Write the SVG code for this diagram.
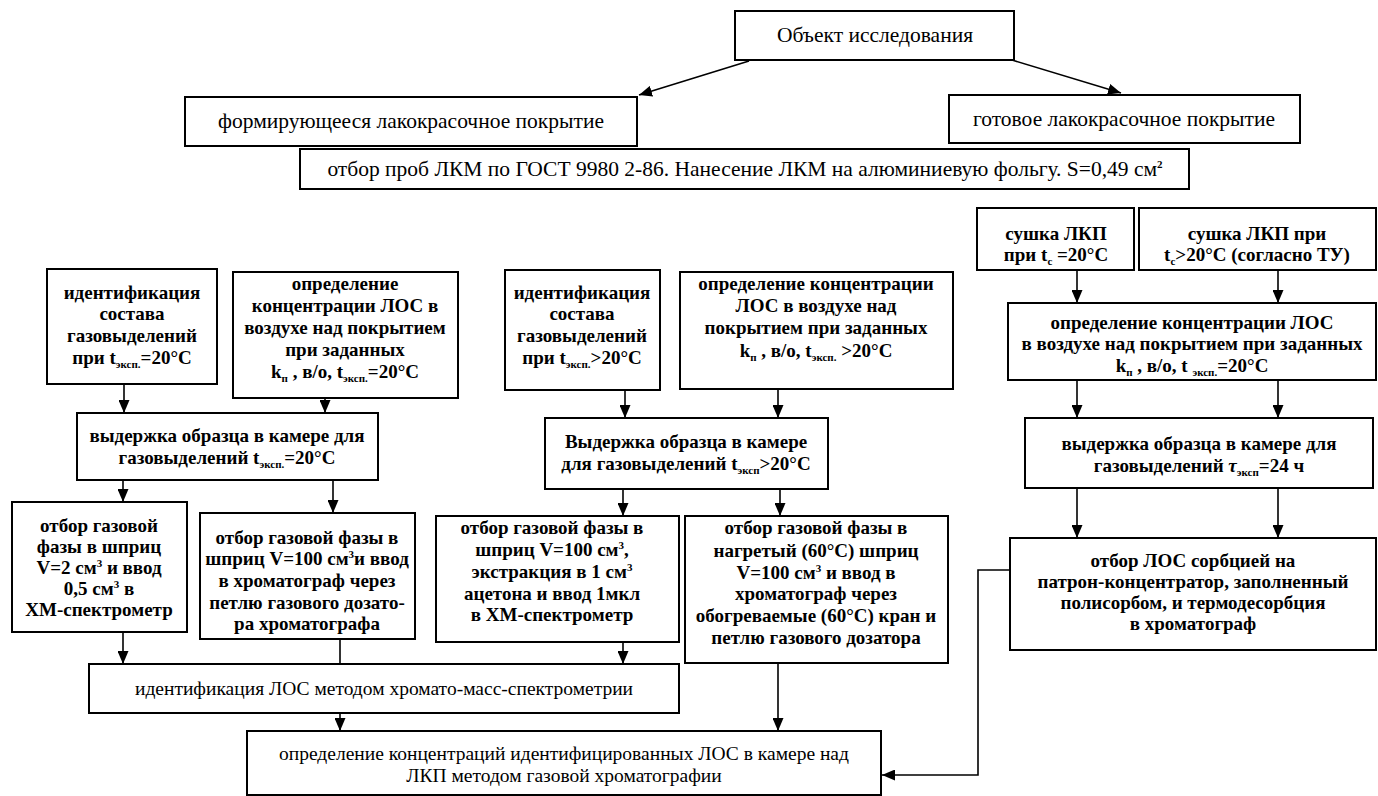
<svg xmlns="http://www.w3.org/2000/svg" width="1378" height="796" viewBox="0 0 1378 796">
<style>
.box{fill:#fff;stroke:#000;stroke-width:2}
.t{font-family:"Liberation Serif","Times New Roman",serif;font-size:20px;fill:#000;text-anchor:middle}
.top{font-size:21.5px}
.mid{font-size:19.5px}
.b{font-weight:bold;font-size:19px}
.s{font-size:11px}
.ln{fill:none;stroke:#000;stroke-width:1.6}
.ar{marker-end:url(#ah)}
</style>
<defs>
<marker id="ah" viewBox="0 0 13 11" refX="13" refY="5.5" markerWidth="13" markerHeight="11" markerUnits="userSpaceOnUse" orient="auto">
<path d="M0,0 L13,5.5 L0,11 z" fill="#000"/>
</marker>
</defs>
<rect width="1378" height="796" fill="#fff"/>

<g id="connectors">
<path class="ln ar" d="M749,61 L639,95"/>
<path class="ln ar" d="M1012,60 L1121,93"/>
<path class="ln ar" d="M124,384 V413"/>
<path class="ln ar" d="M325,398 V413"/>
<path class="ln ar" d="M123,480 V502"/>
<path class="ln ar" d="M333,480 V513"/>
<path class="ln ar" d="M123,632 V664"/>
<path class="ln" d="M340,639 V664"/>
<path class="ln ar" d="M340,713 V731"/>
<path class="ln ar" d="M625,390 V418"/>
<path class="ln ar" d="M778,389 V418"/>
<path class="ln ar" d="M623,489 V516"/>
<path class="ln ar" d="M780,489 V516"/>
<path class="ln ar" d="M623,642 V664"/>
<path class="ln ar" d="M778,663 V731"/>
<path class="ln ar" d="M1077,270 V303"/>
<path class="ln ar" d="M1278,270 V303"/>
<path class="ln ar" d="M1077,380 V418"/>
<path class="ln ar" d="M1278,380 V418"/>
<path class="ln ar" d="M1077,488 V538"/>
<path class="ln ar" d="M1278,488 V538"/>
<path class="ln ar" d="M1010,570 H978 V775 H882"/>
</g>

<g id="n-object">
<rect class="box" x="735" y="11" width="279" height="49"/>
<text class="t top" x="875" y="42">Объект исследования</text>
</g>
<g id="n-forming">
<rect class="box" x="185" y="97" width="452" height="49"/>
<text class="t top" x="411" y="128">формирующееся лакокрасочное покрытие</text>
</g>
<g id="n-ready">
<rect class="box" x="949" y="95" width="351" height="48"/>
<text class="t top" x="1124" y="126">готовое лакокрасочное покрытие</text>
</g>
<g id="n-sampling">
<rect class="box" x="300" y="149" width="889" height="40"/>
<text class="t top" x="745" y="176">отбор проб ЛКМ по ГОСТ 9980 2-86. Нанесение ЛКМ на алюминиевую фольгу. S=0,49 см<tspan class="s" dy="-8" font-weight="bold">2</tspan></text>
</g>

<g id="n-ident20">
<rect class="box" x="47" y="269" width="170" height="115"/>
<text class="t b"><tspan x="132" y="299">идентификация</tspan><tspan x="132" y="320">состава</tspan><tspan x="132" y="342">газовыделений</tspan><tspan x="132" y="364">при t<tspan class="s" dy="4">эксп.</tspan><tspan dy="-4">=20°C</tspan></tspan></text>
</g>
<g id="n-conc20">
<rect class="box" x="233" y="272" width="225" height="126"/>
<text class="t b"><tspan x="345" y="290">определение</tspan><tspan x="345" y="312">концентрации ЛОС в</tspan><tspan x="345" y="334">воздухе над покрытием</tspan><tspan x="345" y="356">при заданных</tspan><tspan x="345" y="378">k<tspan class="s" dy="4">п</tspan><tspan dy="-4"> , в/о, t</tspan><tspan class="s" dy="4">эксп.</tspan><tspan dy="-4">=20°C</tspan></tspan></text>
</g>
<g id="n-hold20">
<rect class="box" x="77" y="413" width="301" height="67"/>
<text class="t b"><tspan x="227" y="442">выдержка образца в камере для</tspan><tspan x="227" y="464">газовыделений t<tspan class="s" dy="4">эксп.</tspan><tspan dy="-4">=20°C</tspan></tspan></text>
</g>
<g id="n-syringe2">
<rect class="box" x="12" y="502" width="175" height="130"/>
<text class="t b"><tspan x="99" y="532">отбор газовой</tspan><tspan x="99" y="553">фазы в шприц</tspan><tspan x="99" y="574">V=2 см<tspan class="s" dy="-7">3</tspan><tspan dy="7"> и ввод</tspan></tspan><tspan x="99" y="595">0,5 см<tspan class="s" dy="-7">3</tspan><tspan dy="7"> в</tspan></tspan><tspan x="99" y="616">ХМ-спектрометр</tspan></text>
</g>
<g id="n-syringe100">
<rect class="box" x="200" y="513" width="215" height="126"/>
<text class="t b"><tspan x="307" y="544">отбор газовой фазы в</tspan><tspan x="307" y="565">шприц V=100 см<tspan class="s" dy="-7">3</tspan><tspan dy="7">и ввод</tspan></tspan><tspan x="307" y="587">в хроматограф через</tspan><tspan x="307" y="609">петлю газового дозато-</tspan><tspan x="307" y="630">ра хроматографа</tspan></text>
</g>
<g id="n-gcms">
<rect class="box" x="89" y="664" width="590" height="49"/>
<text class="t mid" x="384" y="695">идентификация ЛОС методом хромато-масс-спектрометрии</text>
</g>
<g id="n-gc">
<rect class="box" x="247" y="731" width="634" height="64"/>
<text class="t mid"><tspan x="564" y="760">определение концентраций идентифицированных ЛОС в камере над</tspan><tspan x="564" y="782">ЛКП методом газовой хроматографии</tspan></text>
</g>

<g id="n-identhot">
<rect class="box" x="505" y="270" width="155" height="120"/>
<text class="t b"><tspan x="582" y="299">идентификация</tspan><tspan x="582" y="320">состава</tspan><tspan x="582" y="342">газовыделений</tspan><tspan x="582" y="364">при t<tspan class="s" dy="4">эксп.</tspan><tspan dy="-4">&gt;20°C</tspan></tspan></text>
</g>
<g id="n-conchot">
<rect class="box" x="680" y="272" width="273" height="117"/>
<text class="t b"><tspan x="816" y="290">определение концентрации</tspan><tspan x="816" y="312">ЛОС в воздухе над</tspan><tspan x="816" y="334">покрытием при заданных</tspan><tspan x="816" y="357">k<tspan class="s" dy="4">п</tspan><tspan dy="-4"> , в/о, t</tspan><tspan class="s" dy="4">эксп.</tspan><tspan dy="-4"> &gt;20°C</tspan></tspan></text>
</g>
<g id="n-holdhot">
<rect class="box" x="545" y="418" width="283" height="71"/>
<text class="t b"><tspan x="686" y="448">Выдержка образца в камере</tspan><tspan x="686" y="470">для газовыделений t<tspan class="s" dy="4">эксп</tspan><tspan dy="-4">&gt;20°C</tspan></tspan></text>
</g>
<g id="n-extract">
<rect class="box" x="436" y="516" width="243" height="126"/>
<text class="t b"><tspan x="552" y="534">отбор газовой фазы в</tspan><tspan x="552" y="556">шприц V=100 см<tspan class="s" dy="-7">3</tspan><tspan dy="7">,</tspan></tspan><tspan x="552" y="578">экстракция в 1 см<tspan class="s" dy="-7">3</tspan></tspan><tspan x="552" y="600">ацетона и ввод 1мкл</tspan><tspan x="552" y="621">в ХМ-спектрометр</tspan></text>
</g>
<g id="n-heated">
<rect class="box" x="685" y="516" width="263" height="147"/>
<text class="t b"><tspan x="816" y="534">отбор газовой фазы в</tspan><tspan x="816" y="557">нагретый (60°C) шприц</tspan><tspan x="816" y="579">V=100 см<tspan class="s" dy="-7">3</tspan><tspan dy="7"> и ввод в</tspan></tspan><tspan x="816" y="600">хроматограф через</tspan><tspan x="816" y="622">обогреваемые (60°C) кран и</tspan><tspan x="816" y="644">петлю газового дозатора</tspan></text>
</g>

<g id="n-dry20">
<rect class="box" x="977" y="208" width="157" height="62"/>
<text class="t b"><tspan x="1056" y="240">сушка ЛКП</tspan><tspan x="1056" y="261">при t<tspan class="s" dy="4">с</tspan><tspan dy="-4"> =20°C</tspan></tspan></text>
</g>
<g id="n-dryhot">
<rect class="box" x="1139" y="208" width="237" height="62"/>
<text class="t b"><tspan x="1257" y="240">сушка ЛКП при</tspan><tspan x="1257" y="261">t<tspan class="s" dy="4">с</tspan><tspan dy="-4">&gt;20°C (согласно ТУ)</tspan></tspan></text>
</g>
<g id="n-concready">
<rect class="box" x="1008" y="303" width="368" height="77"/>
<text class="t b"><tspan x="1192" y="329">определение концентрации ЛОС</tspan><tspan x="1192" y="350">в воздухе над покрытием при заданных</tspan><tspan x="1192" y="372">k<tspan class="s" dy="4">п</tspan><tspan dy="-4"> , в/о, t </tspan><tspan class="s" dy="4">эксп.</tspan><tspan dy="-4">=20°C</tspan></tspan></text>
</g>
<g id="n-hold24">
<rect class="box" x="1025" y="418" width="348" height="70"/>
<text class="t b"><tspan x="1199" y="450">выдержка образца в камере для</tspan><tspan x="1199" y="472">газовыделений <tspan font-style="italic">τ</tspan><tspan class="s" dy="4">эксп</tspan><tspan dy="-4">=24 ч</tspan></tspan></text>
</g>
<g id="n-sorb">
<rect class="box" x="1010" y="538" width="366" height="112"/>
<text class="t b"><tspan x="1193" y="567">отбор ЛОС сорбцией на</tspan><tspan x="1193" y="588">патрон-концентратор, заполненный</tspan><tspan x="1193" y="609">полисорбом, и термодесорбция</tspan><tspan x="1193" y="630">в хроматограф</tspan></text>
</g>
</svg>
